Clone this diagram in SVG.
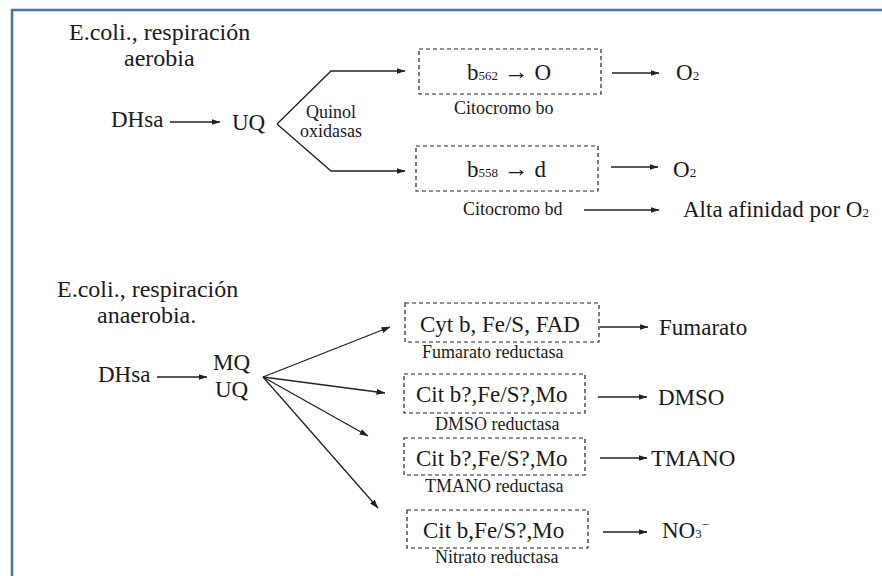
<svg xmlns="http://www.w3.org/2000/svg" width="882" height="576" viewBox="0 0 882 576">
  <style>
    text { font-family: "Liberation Serif", "Times New Roman", Times, "DejaVu Serif", serif; fill: #1a1a1a; }
    .big { font-size: 23px; }
    .title { font-size: 24px; }
    .small { font-size: 18px; }
    .sub { font-size: 13px; }
    .box { fill: none; stroke: #222; stroke-width: 1.2; stroke-dasharray: 4 3; }
    .arr { fill: none; stroke: #222; stroke-width: 1.3; marker-end: url(#ah); }
  </style>
  <defs>
    <marker id="ah" markerUnits="userSpaceOnUse" markerWidth="9" markerHeight="7" refX="8.5" refY="3" orient="auto">
      <path d="M0,0 L9,3 L0,6 z" fill="#222"/>
    </marker>
  </defs>

  <rect x="0" y="0" width="882" height="576" fill="#ffffff"/>
  <rect x="12" y="10" width="900" height="620" fill="none" stroke="#4472C4" stroke-width="2.5"/>

  <!-- Aerobic respiration -->
  <g id="title-aerobia">
    <text class="title" x="69" y="40">E.coli., respiración</text>
    <text class="title" x="124" y="66">aerobia</text>
  </g>
  <g id="dhsa-1"><text class="big" x="111" y="127">DHsa</text></g>
  <g id="uq-1"><text class="big" x="232" y="130">UQ</text></g>
  <g id="quinol">
    <text class="small" x="306" y="118">Quinol</text>
    <text class="small" x="300" y="137">oxidasas</text>
  </g>
  <g id="cyt-bo">
    <rect class="box" x="419" y="49" width="182" height="45"/>
    <text class="big" x="467" y="80">b<tspan class="sub">562</tspan> <tspan font-size="25">→</tspan> O</text>
    <text class="small" x="454" y="114">Citocromo  bo</text>
  </g>
  <g id="o2-1"><text class="big" x="676" y="80">O<tspan class="sub">2</tspan></text></g>
  <g id="cyt-bd">
    <rect class="box" x="416" y="146" width="182" height="45"/>
    <text class="big" x="467" y="177">b<tspan class="sub">558</tspan> <tspan font-size="25">→</tspan> d</text>
    <text class="small" x="463" y="215">Citocromo  bd</text>
  </g>
  <g id="o2-2"><text class="big" x="673" y="177">O<tspan class="sub">2</tspan></text></g>
  <g id="afinidad"><text class="big" x="683" y="217">Alta afinidad por O<tspan class="sub">2</tspan></text></g>

  <!-- Anaerobic respiration -->
  <g id="title-anaerobia">
    <text class="title" x="57" y="297">E.coli., respiración</text>
    <text class="title" x="97" y="323">anaerobia.</text>
  </g>
  <g id="dhsa-2"><text class="big" x="98" y="382">DHsa</text></g>
  <g id="mq-uq">
    <text class="big" x="213" y="370">MQ</text>
    <text class="big" x="215" y="397">UQ</text>
  </g>
  <g id="fumarato-red">
    <rect class="box" x="405" y="303" width="194" height="39"/>
    <text class="big" x="420" y="332">Cyt b, Fe/S, FAD</text>
    <text class="small" x="422" y="358">Fumarato  reductasa</text>
  </g>
  <g id="fumarato"><text class="big" x="659" y="335">Fumarato</text></g>
  <g id="dmso-red">
    <rect class="box" x="404" y="374" width="181" height="39"/>
    <text class="big" x="416" y="402">Cit b?,Fe/S?,Mo</text>
    <text class="small" x="435" y="430">DMSO reductasa</text>
  </g>
  <g id="dmso"><text class="big" x="658" y="405">DMSO</text></g>
  <g id="tmano-red">
    <rect class="box" x="404" y="438" width="181" height="37"/>
    <text class="big" x="416" y="466">Cit b?,Fe/S?,Mo</text>
    <text class="small" x="425" y="492">TMANO reductasa</text>
  </g>
  <g id="tmano"><text class="big" x="651" y="466">TMANO</text></g>
  <g id="nitrato-red">
    <rect class="box" x="407" y="510" width="181" height="38"/>
    <text class="big" x="423" y="538">Cit b,Fe/S?,Mo</text>
    <text class="small" x="435" y="563">Nitrato reductasa</text>
  </g>
  <g id="no3"><text class="big" x="662" y="538">NO<tspan class="sub">3</tspan><tspan class="sub" dy="-9">−</tspan></text></g>

  <!-- connectors -->
  <g id="connectors">
    <path class="arr" d="M170,122 L220,122"/>
    <path class="arr" d="M277,124 L331,71 L405,71"/>
    <path class="arr" d="M277,124 L331,171 L405,171"/>
    <path class="arr" d="M612,73 L659,73"/>
    <path class="arr" d="M611,167 L658,167"/>
    <path class="arr" d="M584,210 L659,210"/>

    <path class="arr" d="M157,377 L207,377"/>
    <path class="arr" d="M263,377 L390,327"/>
    <path class="arr" d="M263,377 L385,393"/>
    <path class="arr" d="M263,377 L368,436"/>
    <path class="arr" d="M263,377 L378,508"/>
    <path class="arr" d="M600,327 L648,327"/>
    <path class="arr" d="M598,397 L647,397"/>
    <path class="arr" d="M600,458 L647,458"/>
    <path class="arr" d="M603,532 L647,532"/>
  </g>
</svg>
